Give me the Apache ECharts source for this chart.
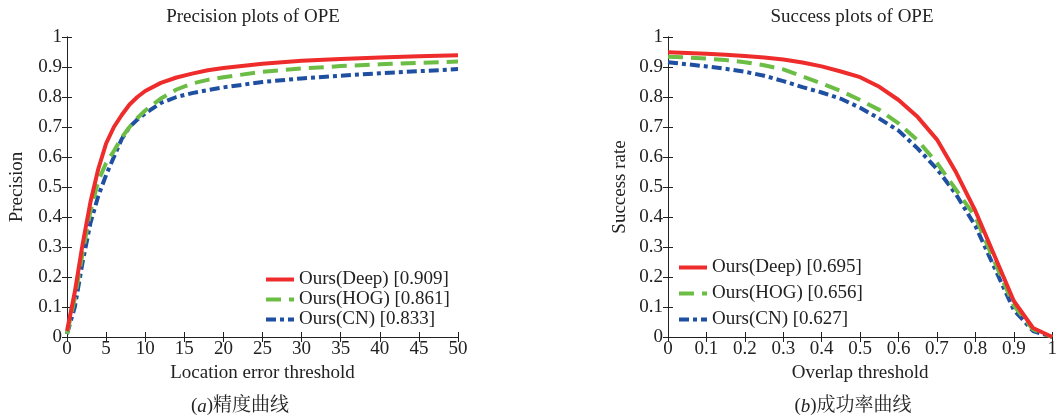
<!DOCTYPE html>
<html>
<head>
<meta charset="utf-8">
<script src="https://cdn.jsdelivr.net/npm/echarts@6/dist/echarts.min.js"></script>
<style>
  html, body { margin: 0; padding: 0; background: #fff; }
  #chart { width: 1060px; height: 416px; }
</style>
</head>
<body>
<div id="chart"></div>
<script>
// 精度曲线数据 (location error threshold)
const precThresholds = [0, 1, 2, 3, 4, 5, 6, 7, 8, 9, 10, 12, 14, 16, 18, 20, 25, 30, 35, 40, 45, 50]
const precDeep = [0.02, 0.15, 0.31, 0.45, 0.56, 0.645, 0.70, 0.74, 0.775, 0.80, 0.82, 0.847, 0.865, 0.878, 0.889, 0.897, 0.911, 0.921, 0.927, 0.932, 0.936, 0.939]
const precHog = [0.01, 0.13, 0.28, 0.42, 0.52, 0.58, 0.62, 0.665, 0.70, 0.73, 0.755, 0.795, 0.825, 0.845, 0.857, 0.866, 0.884, 0.895, 0.903, 0.909, 0.914, 0.918]
const precCn = [0.01, 0.10, 0.25, 0.38, 0.47, 0.54, 0.60, 0.66, 0.70, 0.725, 0.745, 0.78, 0.80, 0.813, 0.823, 0.832, 0.85, 0.862, 0.871, 0.879, 0.886, 0.893]

// 成功率曲线数据 (overlap threshold)
const succThresholds = [0, 0.05, 0.1, 0.15, 0.2, 0.25, 0.3, 0.35, 0.4, 0.45, 0.5, 0.55, 0.6, 0.65, 0.7, 0.75, 0.8, 0.85, 0.9, 0.95, 1]
const succDeep = [0.949, 0.947, 0.944, 0.941, 0.937, 0.932, 0.925, 0.915, 0.902, 0.885, 0.866, 0.834, 0.79, 0.733, 0.658, 0.548, 0.42, 0.27, 0.12, 0.03, 0.0]
const succHog = [0.934, 0.932, 0.928, 0.923, 0.916, 0.906, 0.892, 0.869, 0.845, 0.82, 0.79, 0.757, 0.712, 0.655, 0.58, 0.49, 0.40, 0.25, 0.105, 0.025, 0.0]
const succCn = [0.916, 0.909, 0.902, 0.894, 0.884, 0.871, 0.853, 0.833, 0.815, 0.794, 0.764, 0.728, 0.688, 0.628, 0.56, 0.475, 0.37, 0.23, 0.09, 0.02, 0.0]

const precNames = ['Ours(Deep) [0.909]', 'Ours(HOG) [0.861]', 'Ours(CN) [0.833]']
const succNames = ['Ours(Deep) [0.695]', 'Ours(HOG) [0.656]', 'Ours(CN) [0.627]']

const yTicks = { min: 0, max: 1, interval: 0.1 }

const FONT = "'Liberation Serif', 'Noto Serif CJK SC', 'Noto Sans CJK SC', serif"
const FS = 19
const INK = '#222'
const styles = [
  { color: '#ee2c2c', type: 'solid' },
  { color: '#6cbd45', type: [15, 8] },
  { color: '#1e4fa0', type: [10, 4, 4, 4] }
]

const pair = (xs, ys) => xs.map((x, i) => [x, ys[i]])

const axisBase = (show) => ({
  axisLine: { show: true, lineStyle: { color: INK, width: 1 } },
  axisTick: { show: true, inside: true, length: 5, lineStyle: { color: INK } },
  axisLabel: { show: show, color: INK, fontFamily: FONT, fontSize: FS },
  splitLine: { show: false }
})

const makeX = (gridIndex, max, interval, name) => [
  Object.assign({
    type: 'value', gridIndex, min: 0, max, interval, position: 'bottom',
    name, nameLocation: 'middle', nameGap: 25,
    nameTextStyle: { color: INK, fontFamily: FONT, fontSize: FS }
  }, axisBase(true), { axisLabel: { color: INK, fontFamily: FONT, fontSize: FS, margin: 3 } }),
  Object.assign({ type: 'value', gridIndex, min: 0, max, interval, position: 'top' }, axisBase(false))
]

const makeY = (gridIndex, name, gap) => [
  Object.assign({
    type: 'value', gridIndex, ...yTicks, position: 'left',
    name, nameLocation: 'middle', nameGap: gap,
    nameTextStyle: { color: INK, fontFamily: FONT, fontSize: FS }
  }, axisBase(true), { axisLabel: { color: INK, fontFamily: FONT, fontSize: FS, margin: 5 } }),
  Object.assign({ type: 'value', gridIndex, ...yTicks, position: 'right' }, axisBase(false))
]

const makeSeries = (names, xs, lists, axisOffset) => lists.map((ys, i) => ({
  name: names[i],
  type: 'line',
  xAxisIndex: axisOffset,
  yAxisIndex: axisOffset,
  data: pair(xs, ys),
  smooth: false,
  showSymbol: false,
  symbol: 'none',
  z: 10 - i,
  lineStyle: { color: styles[i].color, type: styles[i].type, width: 4, join: 'round' },
  itemStyle: { color: styles[i].color }
}))

const titleStyle = { color: INK, fontFamily: FONT, fontSize: FS, fontWeight: 'normal' }
const captionStyle = Object.assign({}, titleStyle, {
  rich: { i: { fontFamily: FONT, fontSize: FS, fontStyle: 'italic', color: INK } }
})

const legendBase = {
  orient: 'vertical',
  padding: 0,
  itemWidth: 28,
  itemHeight: 14,
  selectedMode: false,
  itemStyle: { opacity: 0 },
  lineStyle: { width: 4 },
  textStyle: { color: INK, fontFamily: FONT, fontSize: FS, lineHeight: 18 }
}

const chart = echarts.init(document.getElementById('chart'))

chart.setOption({
  backgroundColor: '#fff',
  animation: false,
  title: [
    { text: 'Precision plots of OPE', left: 253, top: 8, padding: 0, textAlign: 'center', textStyle: titleStyle },
    { text: 'Success plots of OPE', left: 852, top: 8, padding: 0, textAlign: 'center', textStyle: titleStyle },
    { text: '({i|a})精度曲线', left: 240, top: 397, padding: 0, textAlign: 'center', textStyle: captionStyle },
    { text: '({i|b})成功率曲线', left: 853, top: 397, padding: 0, textAlign: 'center', textStyle: captionStyle }
  ],
  legend: [
    Object.assign({ data: precNames, left: 264, top: 270, itemGap: 1 }, legendBase),
    Object.assign({ data: succNames, left: 677, top: 258, itemGap: 7 }, legendBase)
  ],
  grid: [
    { left: 67, top: 37, width: 391, height: 300 },
    { left: 668, top: 37, width: 391, height: 300 }
  ],
  xAxis: [
    ...makeX(0, 50, 5, 'Location error threshold'),
    ...makeX(1, 1, 0.1, 'Overlap threshold')
  ],
  yAxis: [
    ...makeY(0, 'Precision', 40),
    ...makeY(1, 'Success rate', 38)
  ],
  series: [
    ...makeSeries(precNames, precThresholds, [precDeep, precHog, precCn], 0),
    ...makeSeries(succNames, succThresholds, [succDeep, succHog, succCn], 2)
  ]
})
</script>
</body>
</html>
